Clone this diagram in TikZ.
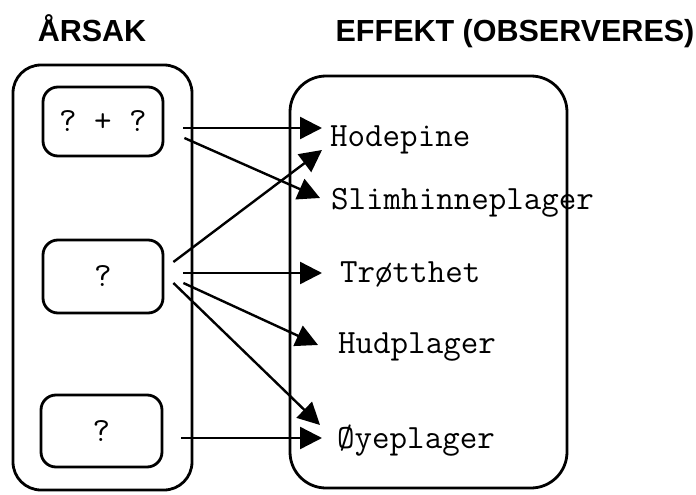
\documentclass[tikz,border=0pt]{standalone}
\usepackage{fontspec}
\setmainfont{Liberation Sans}
\usetikzlibrary{arrows.meta}
\begin{document}
\begin{tikzpicture}[x=1pt,y=-1pt,
  title/.style={font=\fontsize{30.5}{32}\selectfont\bfseries, anchor=base, inner sep=0},
  outerbox/.style={draw, line width=2.8pt, rounded corners=28pt},
  causebox/.style={draw, line width=2.8pt, rounded corners=15pt, font=\ttfamily\fontsize{34}{34}\selectfont, inner sep=0},
  effect/.style={font=\ttfamily\fontsize{34}{34}\selectfont, anchor=west, inner sep=0},
  arr/.style={line width=2.4pt, -{Triangle[length=22pt,width=22pt]}}]
\useasboundingbox (0,0) rectangle (696,495);
\node[title] (tcause) at (92,42) {ÅRSAK};
\node[title] (teffect) at (515,42) {EFFEKT (OBSERVERES)};
\node[outerbox, minimum width=179pt, minimum height=425pt] (left) at (102.5,277.5) {};
\node[outerbox, rounded corners=36pt, minimum width=277pt, minimum height=412pt] (right) at (428.5,282) {};
\node[causebox, minimum width=120pt, minimum height=69pt] (b1) at (103,121.5) {?~+~?};
\node[causebox, minimum width=120pt, minimum height=73pt] (b2) at (103,276.5) {?};
\node[causebox, minimum width=121pt, minimum height=72pt] (b3) at (101.5,431) {?};
\node[effect] (hode) at (330,140) {Hodepine};
\node[effect] (slim) at (331,203) {Slimhinneplager};
\node[effect] (trot) at (340,274) {Trøtthet};
\node[effect] (hud) at (338,347) {Hudplager};
\node[effect] (oye) at (337,441) {Øyeplager};
\draw[arr] ([shift={(19,6.5)}]b1.east) -- ([shift={(-8,-12)}]hode.west);
\draw[arr] ([shift={(20,16.5)}]b1.east) -- ([shift={(-11,-5)}]slim.west);
\draw[arr] ([shift={(9,-14.5)}]b2.east) -- ([shift={(-8,10)}]hode.west);
\draw[arr] ([shift={(19,-3.5)}]b2.east) -- ([shift={(-18,-1)}]trot.west);
\draw[arr] ([shift={(19,6.5)}]b2.east) -- ([shift={(-20,-2)}]hud.west);
\draw[arr] ([shift={(9,6.5)}]b2.east) -- ([shift={(-17,-16)}]oye.west);
\draw[arr] ([shift={(18,7)}]b3.east) -- ([shift={(-15,-3)}]oye.west);
\end{tikzpicture}
\end{document}
